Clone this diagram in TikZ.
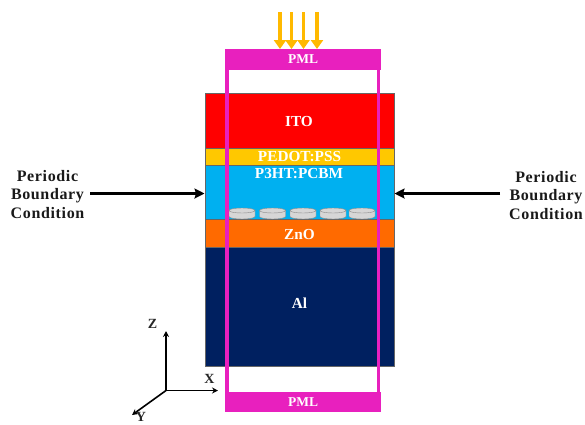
\documentclass[tikz,border=0pt]{standalone}
\usepackage{fontspec}
\setmainfont{Liberation Serif}
\usetikzlibrary{arrows.meta}
\definecolor{itoc}{HTML}{FF0000}
\definecolor{pedotc}{HTML}{FFC800}
\definecolor{p3c}{HTML}{00B0F0}
\definecolor{znoc}{HTML}{FF6A00}
\definecolor{alc}{HTML}{002060}
\definecolor{pmlc}{HTML}{E820BE}
\definecolor{sunc}{HTML}{FFB900}
\definecolor{discc}{HTML}{D6D6D6}
\tikzset{
  x=1pt,y=-1pt,
  layer/.style={draw=black!60,line width=0.5pt,minimum width=189pt,inner sep=0pt,outer sep=0pt,anchor=north west},
  ltext/.style={text=white,font=\bfseries\fontsize{15.3}{15}\selectfont,inner sep=0pt},
  pml/.style={fill=pmlc,draw=none,minimum width=156pt,minimum height=20.5pt,inner sep=0pt,text=white,font=\bfseries\fontsize{13.5}{14}\selectfont},
  bc/.style={align=center,font=\bfseries\fontsize{16}{18.5}\selectfont\addfontfeatures{LetterSpace=4},text=black!90,inner sep=0pt},
  blk/.style={line width=2.8pt,-{Stealth[length=10pt,width=10pt,inset=1.5pt]}},
  sun/.style={draw=sunc,line width=3.4pt,-{Triangle[length=9pt,width=12pt]},shorten >=0pt},
  axis/.style={line width=1.6pt,black,-{Stealth[length=6pt,width=6pt]}},
  axl/.style={font=\bfseries\fontsize{14}{14}\selectfont,text=black!85,inner sep=0pt},
  disc/.style={fill=discc,draw=black!45,line width=0.4pt},
}
\newcommand{\discat}[1]{%
  \draw[disc] (#1,210.5) -- (#1,216.5) arc[start angle=180,end angle=360,x radius=13pt,y radius=2.5pt] -- (#1+26,210.5);
  \draw[disc] (#1+13,210.5) ellipse[x radius=13pt,y radius=2.5pt];
}
\begin{document}
\begin{tikzpicture}
\useasboundingbox (0,0) rectangle (585,424);
% layers
\node[layer,fill=itoc,minimum height=55pt] (ito) at (205,93) {};
\node[layer,fill=pedotc,minimum height=17pt] (pedot) at (205,148) {};
\node[layer,fill=p3c,minimum height=54pt] (p3) at (205,165) {};
\node[layer,fill=znoc,minimum height=28pt] (zno) at (205,219) {};
\node[layer,fill=alc,minimum height=119pt] (al) at (205,247) {};
% discs
\discat{229}\discat{259.5}\discat{290}\discat{320}\discat{349}
% PML frame
\node[pml] (pmlt) at (303,59.5) {PML};
\node[pml] (pmlb) at (303,402) {PML};
\draw[pmlc,line width=3.6pt] (227,69) -- (227,393);
\draw[pmlc,line width=3.2pt] (378.6,69) -- (378.6,393);
% layer labels
\node[ltext] (tito) at (299,122) {ITO};
\node[ltext] (tpedot) at (299.5,157) {PEDOT:PSS};
\node[ltext] (tp3) at (299,174) {P3HT:PCBM};
\node[ltext] (tzno) at (299.5,234.5) {ZnO};
\node[ltext] (tal) at (299.5,303) {Al};
% illumination
\coordinate (s1) at (280,12); \coordinate (e1) at (280,49);
\coordinate (s2) at (291.5,12); \coordinate (e2) at (291.5,49);
\coordinate (s3) at (303.5,12); \coordinate (e3) at (303.5,49);
\coordinate (s4) at (317,12); \coordinate (e4) at (317,49);
\draw[sun] (s1) -- (e1);
\draw[sun] (s2) -- (e2);
\draw[sun] (s3) -- (e3);
\draw[sun] (s4) -- (e4);
% boundary labels
\node[bc] (bl) at (47.5,194.5) {Periodic\\Boundary\\Condition};
\node[bc] (br) at (546,195.5) {Periodic\\Boundary\\Condition};
\coordinate (al1) at (90,193.5); \coordinate (al2) at (204.5,193.5);
\coordinate (ar1) at (500,193.5); \coordinate (ar2) at (394.5,193.5);
\draw[blk] (al1) -- (al2);
\draw[blk] (ar1) -- (ar2);
% axes
\coordinate (o) at (166,390.5);
\coordinate (az) at (166,331); \coordinate (ax) at (218,390.5); \coordinate (ay) at (132,415);
\draw[axis] (o) -- (az);
\draw[axis] (o) -- (ax);
\draw[axis] (o) -- (ay);
\node[axl] (lz) at (152.5,324) {Z};
\node[axl] (lx) at (209.5,379) {X};
\node[axl] (ly) at (141,417) {Y};
\end{tikzpicture}
\end{document}
